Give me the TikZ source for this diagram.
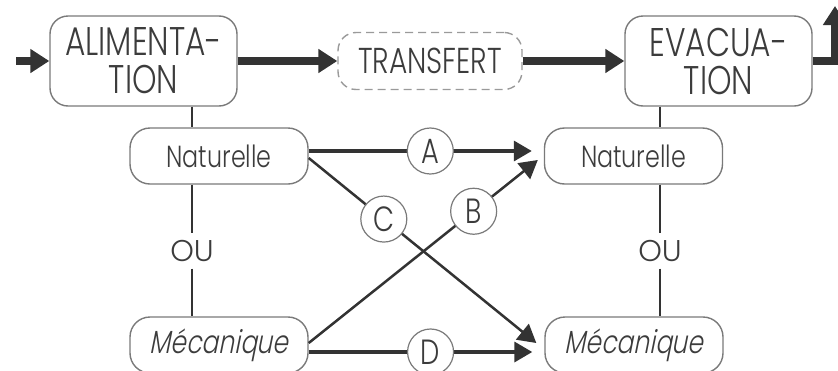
\documentclass[tikz,border=0pt]{standalone}
\usepackage{fontspec}
\IfFontExistsTF{Poppins Light}{%
  \setmainfont{Poppins Light}[FakeStretch=0.78]
  \newfontfamily\mecfont{Poppins Light}[FakeStretch=0.78,FakeSlant=0.2]
  \newfontfamily\oufont{Poppins Light}
}{%
  \setmainfont{Poppins}[FakeStretch=0.78]
  \newfontfamily\mecfont{Poppins}[FakeStretch=0.78,FakeSlant=0.2]
  \newfontfamily\oufont{Poppins}
}
\usetikzlibrary{arrows.meta}
\definecolor{txt}{HTML}{3C3C3C}
\definecolor{boxc}{HTML}{7A7A7A}
\definecolor{dashc}{HTML}{9A9A9A}
\definecolor{arr}{HTML}{333333}
\begin{document}
\begin{tikzpicture}[x=1pt,y=-1pt,
  bigbox/.style={draw=boxc,line width=1.4pt,rounded corners=18pt,minimum width=187pt,minimum height=90pt,inner sep=0pt,align=center,text=txt,font=\fontsize{40}{38}\selectfont},
  dashbox/.style={draw=dashc,line width=1.4pt,dash pattern=on 8pt off 5pt,rounded corners=18pt,minimum width=184pt,minimum height=57pt,inner sep=0pt,text=txt,font=\fontsize{36}{38}\selectfont},
  smallbox/.style={draw=boxc,line width=1.4pt,rounded corners=20pt,minimum width=178pt,minimum height=56pt,inner sep=0pt,text=txt,font=\fontsize{30.5}{32}\selectfont},
  mecbox/.style={smallbox,font=\mecfont\fontsize{32}{34}\selectfont},
  oulabel/.style={inner sep=0pt,minimum width=36pt,minimum height=35pt,text=txt,font=\oufont\fontsize{30}{32}\selectfont},
  circ/.style={circle,draw=boxc,line width=1.2pt,fill=white,minimum size=46pt,inner sep=0pt,text=txt,font=\fontsize{35}{36}\selectfont},
  vline/.style={draw=arr,line width=1.8pt},
  bigarrow/.style={draw=arr,line width=8pt,-{Triangle[length=19pt,width=23pt]}},
  thinarrow/.style={draw=arr,line width=2.5pt,-{Triangle[length=18pt,width=20pt]}},
  heavyarrow/.style={thinarrow,line width=3.5pt}
]
\useasboundingbox (0,0) rectangle (838,370);

\node[bigbox] (alim) at (143.5,61) {ALIMENTA-\\TION};
\node[dashbox] (trans) at (430,61) {TRANSFERT};
\node[bigbox] (evac) at (718.5,61) {EVACUA-\\TION};
\node[smallbox] (natL) at (219,156) {Naturelle};
\node[smallbox] (natR) at (633.5,156) {Naturelle};
\node[mecbox] (mecL) at (219,345) {Mécanique};
\node[mecbox] (mecR) at (634,345) {Mécanique};
\node[oulabel] (ouL) at (192,251) {OU};
\node[oulabel] (ouR) at (660,251) {OU};

\coordinate (inA) at (16,61);
\coordinate (outC) at (835,61);
\coordinate (outT) at (835,6);

\draw[bigarrow] (inA) -- (alim.west);
\draw[bigarrow] (alim.east) -- (trans.west);
\draw[bigarrow] (trans.east) -- (evac.west);
\draw[bigarrow] (evac.east) -- (outC) -- (outT);

\draw[vline] (alim.south -| ouL) -- (natL.north -| ouL);
\draw[vline] (natL.south -| ouL) -- (ouL);
\draw[vline] (ouL) -- (mecL.north -| ouL);
\draw[vline] (evac.south -| ouR) -- (natR.north -| ouR);
\draw[vline] (natR.south -| ouR) -- (ouR);
\draw[vline] (ouR) -- (mecR.north -| ouR);

\draw[heavyarrow] ([yshift=5pt]natL.east) -- node[circ,pos=0.545] {A} ([yshift=5pt,xshift=-12pt]natR.west);
\draw[thinarrow] ([yshift=-2pt]natL.east) -- node[circ,pos=0.33] {C} ([xshift=-8pt,yshift=2pt]mecR.west);
\draw[thinarrow] ([yshift=2pt]mecL.east) -- node[circ,pos=0.72] {B} ([xshift=-6pt,yshift=-4pt]natR.west);
\draw[heavyarrow] ([yshift=-7pt]mecL.east) -- node[circ,pos=0.545] {D} ([yshift=-7pt,xshift=-12pt]mecR.west);
\end{tikzpicture}
\end{document}
